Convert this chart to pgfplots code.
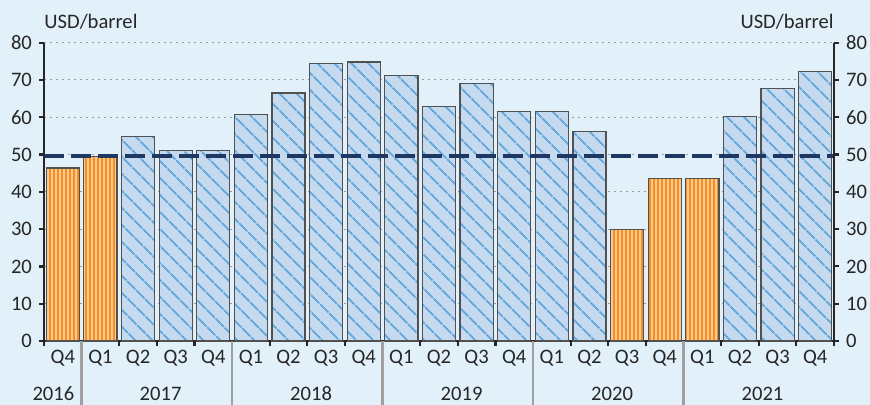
\documentclass[border=0pt]{standalone}
\usepackage{pgfplots}
\pgfplotsset{compat=1.18}
\usetikzlibrary{patterns.meta}
\usepackage{fontspec}
\setmainfont{Carlito}

\definecolor{bgc}{HTML}{E1F0F9}
\definecolor{bluefill}{HTML}{C5D9EF}
\definecolor{bluehatch}{HTML}{6CACDC}
\definecolor{orfill}{HTML}{F78F1E}
\definecolor{orstripe}{HTML}{FCC896}
\definecolor{navy}{HTML}{1F3763}
\definecolor{txt}{HTML}{262626}

\pgfplotsset{
  oilbase/.style={
    at={(0,0)}, anchor=south west,
    scale only axis, width=395pt, height=149.2pt,
    xmin=-0.5, xmax=20.5, ymin=0, ymax=80,
    ytick={0,10,...,80},
    tick align=outside,
    major tick length=2.5pt,
    every tick/.style={txt, line width=1.1pt},
    axis line style={txt, line width=1.2pt},
    tick label style={font=\fontsize{10.3}{12}\selectfont, text=txt},
    /pgf/number format/assume math mode=true,
  },
}
\tikzset{yearlab/.style={font=\fontsize{10.3}{12}\selectfont, text=txt, yshift=-26.2pt}}

\begin{document}
\begin{tikzpicture}
\fill[bgc] (-22pt,-32pt) rectangle (413pt,170.5pt);
\useasboundingbox (-22pt,-32pt) rectangle (413pt,170.5pt);

\begin{axis}[
  oilbase,
  axis x line*=bottom, axis y line*=left,
  x axis line style={-}, y axis line style={-},
  xtick={-0.5,0.5,...,20.5}, xticklabels={},
  extra x ticks={0,...,20},
  extra x tick labels={Q4,Q1,Q2,Q3,Q4,Q1,Q2,Q3,Q4,Q1,Q2,Q3,Q4,Q1,Q2,Q3,Q4,Q1,Q2,Q3,Q4},
  extra x tick style={major tick length=0pt, xticklabel style={yshift=-1pt}},
  ymajorgrids,
  grid style={gray!80, line width=0.5pt, dash pattern=on 1pt off 2pt},
  clip=false,
]
% bars at or above the dashed line
\addplot[ybar, bar shift=0pt, bar width=0.88, fill=bluefill, draw=txt!80, line width=0.6pt,
  postaction={pattern={Lines[angle=-45,distance=6.5pt,line width=1pt]}, pattern color=bluehatch}]
  coordinates {
  (2,54.8)(3,51.0)(4,51.1)
  (5,60.7)(6,66.5)(7,74.4)(8,74.8)
  (9,71.1)(10,62.8)(11,69.0)(12,61.5)
  (13,61.5)(14,56.1)
  (18,60.1)(19,67.6)(20,72.2)
};
% bars below it
\addplot[ybar, bar shift=0pt, bar width=0.88, fill=orfill, draw=txt!80, line width=0.6pt,
  postaction={pattern={Lines[angle=90,distance=2pt,line width=0.7pt]}, pattern color=orstripe}]
  coordinates {
  (0,46.4)(1,49.5)(15,29.8)(16,43.5)(17,43.5)
};
% average
\addplot[navy, line width=2pt, dash pattern=on 10pt off 3.5pt] coordinates {(-0.5,49.7)(20.5,49.7)};

% year separators
\pgfplotsinvokeforeach{0.5,4.5,8.5,12.5,16.5}{
  \draw[gray!75, line width=1.2pt] (axis cs:#1,0) -- ([yshift=-33pt]axis cs:#1,0);
}
% year labels
\node[yearlab] at (axis cs:-0.25,0) {2016};
\node[yearlab] at (axis cs:2.6,0) {2017};
\node[yearlab] at (axis cs:6.6,0) {2018};
\node[yearlab] at (axis cs:10.6,0) {2019};
\node[yearlab] at (axis cs:14.6,0) {2020};
\node[yearlab] at (axis cs:18.6,0) {2021};

\node[anchor=base west, font=\fontsize{10.3}{12}\selectfont, text=txt, yshift=6.9pt, inner sep=0pt] at (rel axis cs:0,1) {USD/barrel};
\node[anchor=base east, font=\fontsize{10.3}{12}\selectfont, text=txt, yshift=6.9pt, inner sep=0pt] at (rel axis cs:1,1) {USD/barrel};
\end{axis}

\begin{axis}[
  oilbase,
  axis x line=none, axis y line*=right,
  y axis line style={-},
]
\addplot[draw=none] coordinates {(0,0)};
\end{axis}
\end{tikzpicture}
\end{document}
